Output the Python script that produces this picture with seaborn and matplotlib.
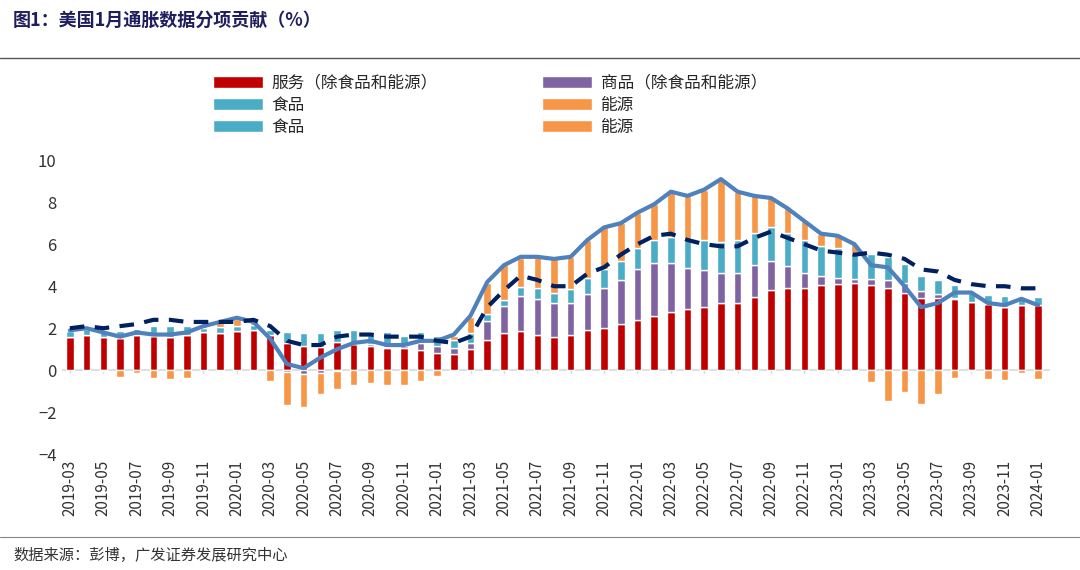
import numpy as np
import pandas as pd
import matplotlib
matplotlib.use("Agg")
import matplotlib.pyplot as plt
import seaborn as sns

months = pd.period_range("2019-03", "2024-01", freq="M").strftime("%Y-%m").tolist()

services = [1.6, 1.7, 1.6, 1.55, 1.7, 1.65, 1.6, 1.7, 1.8, 1.75, 1.85, 1.9,
            1.7, 1.3, 1.15, 1.1, 1.35, 1.25, 1.15, 1.05, 1.05, 0.95, 0.8, 0.75,
            1.0, 1.45, 1.75, 1.85, 1.7, 1.6, 1.7, 1.9, 2.0, 2.2, 2.4, 2.6,
            2.75, 2.9, 3.0, 3.2, 3.2, 3.5, 3.8, 3.9, 3.9, 4.05, 4.1, 4.15,
            4.05, 3.9, 3.7, 3.45, 3.45, 3.4, 3.25, 3.15, 3.0, 3.1, 3.1]
goods = [0, 0, 0, 0, 0, 0, 0, 0, 0, 0, 0, 0,
         0, -0.1, -0.2, -0.15, -0.05, 0, 0.1, 0.05, 0.1, 0.35, 0.35, 0.3,
         0.3, 0.9, 1.3, 1.7, 1.7, 1.6, 1.5, 1.75, 1.9, 2.1, 2.4, 2.5,
         2.35, 1.95, 1.75, 1.45, 1.45, 1.5, 1.4, 1.05, 0.75, 0.45, 0.3, 0.2,
         0.3, 0.4, 0.45, 0.3, 0.2, 0.05, 0, 0, 0, 0, 0]
food = [0.25, 0.25, 0.2, 0.3, 0.25, 0.45, 0.5, 0.4, 0.2, 0.3, 0.25, 0.25,
        0.2, 0.5, 0.6, 0.65, 0.55, 0.65, 0.45, 0.7, 0.5, 0.5, 0.5, 0.4,
        0.45, 0.35, 0.3, 0.4, 0.5, 0.5, 0.65, 0.75, 0.9, 0.9, 1.0, 1.1,
        1.25, 1.35, 1.45, 1.45, 1.55, 1.55, 1.6, 1.6, 1.55, 1.4, 1.4, 1.25,
        1.2, 1.1, 0.9, 0.75, 0.65, 0.6, 0.45, 0.45, 0.55, 0.3, 0.4]
energy = [0, 0, -0.05, -0.3, -0.15, -0.35, -0.4, -0.35, 0.1, 0.2, 0.35, 0.2,
          -0.5, -1.55, -1.55, -1.0, -0.85, -0.7, -0.6, -0.7, -0.7, -0.5, -0.25, 0.2,
          0.8, 1.45, 1.7, 1.4, 1.5, 1.6, 1.55, 1.8, 2.0, 1.8, 1.7, 1.7,
          2.15, 2.1, 2.4, 3.0, 2.3, 1.75, 1.4, 1.15, 0.9, 0.6, 0.6, 0.4,
          -0.55, -1.45, -1.05, -1.6, -1.15, -0.35, -0.05, -0.4, -0.45, -0.15, -0.4]
cpi = [1.9, 2.0, 1.8, 1.6, 1.8, 1.7, 1.7, 1.8, 2.1, 2.3, 2.5, 2.3,
       1.5, 0.3, 0.1, 0.6, 1.0, 1.3, 1.4, 1.2, 1.2, 1.4, 1.4, 1.7,
       2.6, 4.2, 5.0, 5.4, 5.4, 5.3, 5.4, 6.2, 6.8, 7.0, 7.5, 7.9,
       8.5, 8.3, 8.6, 9.1, 8.5, 8.3, 8.2, 7.7, 7.1, 6.5, 6.4, 6.0,
       5.0, 4.9, 4.0, 3.0, 3.2, 3.7, 3.7, 3.2, 3.1, 3.4, 3.1]
core = [2.0, 2.1, 2.0, 2.1, 2.2, 2.4, 2.4, 2.3, 2.3, 2.3, 2.3, 2.4,
        2.1, 1.4, 1.2, 1.2, 1.6, 1.7, 1.7, 1.6, 1.6, 1.6, 1.4, 1.3,
        1.6, 3.0, 3.8, 4.5, 4.3, 4.0, 4.0, 4.6, 4.9, 5.5, 6.0, 6.4,
        6.5, 6.2, 6.0, 5.9, 5.9, 6.3, 6.6, 6.3, 6.0, 5.7, 5.6, 5.5,
        5.6, 5.5, 5.3, 4.8, 4.7, 4.3, 4.1, 4.0, 4.0, 3.9, 3.9]

series = [("服务（除食品和能源）", services, "#C00000"),
          ("商品（除食品和能源）", goods, "#8064A2"),
          ("食品", food, "#4BACC6"),
          ("能源", energy, "#F79646")]

sns.set_style("white")
plt.rcParams['font.family'] = ['Noto Sans CJK SC', 'DejaVu Sans']

fig = plt.figure(figsize=(10.8, 5.7), dpi=100)
ax = fig.add_axes([0.057, 0.203, 0.915, 0.516])
x = np.arange(len(months))

pos_base = np.zeros(len(x))
neg_base = np.zeros(len(x))
handles = []
for name, vals, color in series:
    v = np.array(vals)
    bottom = np.where(v >= 0, pos_base, neg_base)
    h = ax.bar(x, v, bottom=bottom, width=0.45, color=color, label=name, zorder=2)
    handles.append(h)
    pos_base += np.where(v > 0, v, 0)
    neg_base += np.where(v < 0, v, 0)

df = pd.DataFrame({"x": x, "cpi": cpi, "core": core})
sns.lineplot(data=df, x="x", y="cpi", ax=ax, color="#4F81BD", lw=3, zorder=3, label="CPI同比%")
sns.lineplot(data=df, x="x", y="core", ax=ax, color="#002060", lw=3, zorder=4,
             label="核心CPI同比%")
ax.lines[-1].set_dashes((3.5, 2.5))
lh, ll = ax.get_legend_handles_labels()
if ax.get_legend():
    ax.get_legend().remove()

ax.axhline(0, color="#D9D9D9", lw=1.2, zorder=1)
for xi in x[::2]:
    ax.plot([xi, xi], [0, -0.15], color="#D9D9D9", lw=1, zorder=1)
ax.set_xlim(-0.5, len(x) - 0.3)
ax.set_ylim(-4, 10)
ax.set_yticks(range(-4, 11, 2))
ax.set_xticks(x[::2])
ax.set_xticklabels(months[::2], rotation=90, fontsize=11, color="#333333")
ax.tick_params(axis="y", labelsize=12, colors="#333333", length=0)
ax.tick_params(axis="x", length=0, pad=4)
ax.set_xlabel("")
ax.set_ylabel("")
for s in ax.spines.values():
    s.set_visible(False)

bar_lines = [handles[0], handles[2], lh[-2], handles[1], handles[3], lh[-1]]
bar_labels = [series[0][0], series[2][0], ll[-2], series[1][0], series[3][0], ll[-1]]
fig.legend(bar_lines, bar_labels,
           ncol=2, loc="upper left", bbox_to_anchor=(0.183, 0.895), frameon=False,
           fontsize=12, columnspacing=6.3, handlelength=3.0, labelspacing=0.3,
           handletextpad=0.5)

fig.text(0.012, 0.965, "图1：美国1月通胀数据分项贡献（%）", fontsize=13, fontweight="bold",
         color="#1F1F5F", va="center")
fig.add_artist(plt.Line2D([0.0, 1.0], [0.898, 0.898], color="#555555", lw=1))
fig.add_artist(plt.Line2D([0.0, 1.0], [0.058, 0.058], color="#888888", lw=0.8))
fig.text(0.012, 0.025, "数据来源：彭博，广发证券发展研究中心", fontsize=11, color="#333333", va="center")

fig.savefig("out.png", dpi=100)
